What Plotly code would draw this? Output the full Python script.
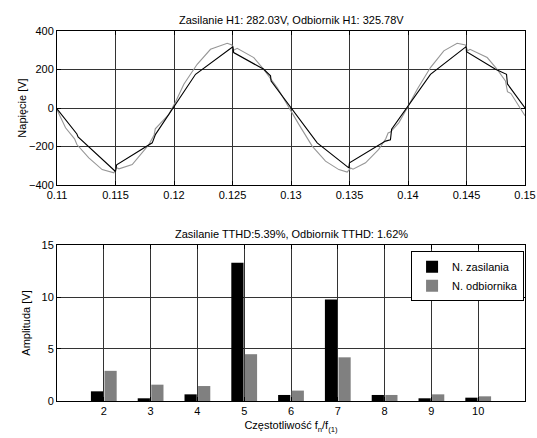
import plotly.graph_objects as go

# --- top chart: voltage waveforms ---
t_zas = [0.1100, 0.1117, 0.1118, 0.1150, 0.1151, 0.11814, 0.11842, 0.12184, 0.12503, 0.1251,
         0.12767, 0.12825, 0.1283, 0.13224, 0.13494, 0.1350, 0.13808, 0.1385, 0.1386,
         0.14192, 0.14497, 0.1450, 0.14748, 0.14842, 0.1485, 0.1500]
v_zas = [-5, -135, -150, -330, -295, -181, -137, 175, 318, 288,
         201, 167, 140, -181, -311, -285, -172, -165, -110,
         175, 319, 293, 201, 175, 125, 0]

t_odb = [0.1100, 0.11073, 0.1115, 0.1116, 0.1117, 0.11272, 0.11386, 0.11486, 0.1151, 0.1153,
         0.11643, 0.11785, 0.1183, 0.1184, 0.11956, 0.12007, 0.12084, 0.12198, 0.12312, 0.12455,
         0.12495, 0.1251, 0.1254, 0.12682, 0.12767, 0.12882, 0.12996, 0.13067, 0.13181, 0.13295,
         0.13409, 0.1348, 0.1351, 0.1353, 0.13637, 0.1375, 0.1381, 0.1383, 0.1385, 0.13921,
         0.13993, 0.14079, 0.14192, 0.14306, 0.1442, 0.14491, 0.1451, 0.1453, 0.14677, 0.14762,
         0.14833, 0.1485, 0.1488, 0.14919, 0.1500]
v_odb = [-9, -103, -160, -175, -190, -259, -320, -337, -310, -316,
         -294, -190, -140, -108, -33, 24, 123, 227, 305, 336,
         328, 300, 310, 262, 201, 106, -16, -85, -198, -276,
         -320, -333, -312, -318, -285, -215, -160, -130, -125, -77,
         0, 97, 210, 297, 336, 327, 297, 305, 262, 201,
         141, 85, 75, 36, -40]

x_ticks_top = [0.11, 0.115, 0.12, 0.125, 0.13, 0.135, 0.14, 0.145, 0.15]
x_ticklabels_top = ["0.11", "0.115", "0.12", "0.125", "0.13", "0.135", "0.14", "0.145", "0.15"]
y_ticks_top = [-400, -200, 0, 200, 400]

# --- bottom chart: harmonics ---
harmonics = [2, 3, 4, 5, 6, 7, 8, 9, 10]
amp_zas = [0.93, 0.26, 0.64, 13.3, 0.58, 9.75, 0.58, 0.26, 0.32]
amp_odb = [2.9, 1.57, 1.44, 4.5, 1.0, 4.2, 0.58, 0.64, 0.45]
y_ticks_bot = [0, 5, 10, 15]

title_top = "Zasilanie H1: 282.03V, Odbiornik H1: 325.78V"
title_bot = "Zasilanie TTHD:5.39%, Odbiornik TTHD: 1.62%"

FONT = "Liberation Sans, Arial, sans-serif"

fig = go.Figure()
fig.add_trace(go.Scatter(x=t_odb, y=v_odb, mode="lines", line=dict(color="#969696", width=1.1),
                         xaxis="x", yaxis="y", showlegend=False))
fig.add_trace(go.Scatter(x=t_zas, y=v_zas, mode="lines", line=dict(color="#000000", width=1.1),
                         xaxis="x", yaxis="y", showlegend=False))
fig.add_trace(go.Bar(x=harmonics, y=amp_zas, name="N. zasilania", marker=dict(color="#000000", line=dict(width=0)),
                     xaxis="x2", yaxis="y2"))
fig.add_trace(go.Bar(x=harmonics, y=amp_odb, name="N. odbiornika", marker=dict(color="#808080", line=dict(width=0)),
                     xaxis="x2", yaxis="y2"))

axis_common = dict(showline=True, linecolor="black", linewidth=1, mirror="ticks",
                   ticks="inside", ticklen=4, tickcolor="black", automargin=False,
                   showgrid=True, gridcolor="#333333", gridwidth=1, zeroline=False,
                   tickfont=dict(family=FONT, size=11, color="black"))

fig.update_layout(
    width=537, height=438,
    paper_bgcolor="white", plot_bgcolor="white",
    margin=dict(l=57, r=12, t=31, b=37),
    font=dict(family=FONT, size=11, color="black"),
    barmode="group", bargap=0.42, bargroupgap=0.1,
    xaxis=dict(domain=[0, 1], range=[0.11, 0.15], tickvals=x_ticks_top, ticktext=x_ticklabels_top,
               anchor="y", **axis_common),
    yaxis=dict(domain=[0.5838, 1], range=[-400, 400], tickvals=y_ticks_top, anchor="x",
               title=dict(text="Napięcie [V]", font=dict(size=11), standoff=0), **axis_common),
    xaxis2=dict(domain=[0, 1], range=[1, 11], tickvals=harmonics, anchor="y2",
                title=dict(text="Częstotliwość f<sub>n</sub>/f<sub>(1)</sub>", font=dict(size=11), standoff=5),
                **axis_common),
    yaxis2=dict(domain=[0, 0.4216], range=[0, 15], tickvals=y_ticks_bot, anchor="x2",
                title=dict(text="Amplituda [V]", font=dict(size=11), standoff=8), **axis_common),
    legend=dict(x=0.998, y=0.405, xanchor="right", yanchor="top", bgcolor="white",
                bordercolor="black", borderwidth=1, font=dict(size=11), tracegroupgap=0,
                itemwidth=30),
    annotations=[
        dict(text=title_top, xref="paper", yref="paper", x=0.5, y=1, yanchor="bottom", yshift=3,
             showarrow=False, font=dict(size=11)),
        dict(text=title_bot, xref="paper", yref="paper", x=0.5, y=0.4216, yanchor="bottom", yshift=3,
             showarrow=False, font=dict(size=11)),
    ],
)

fig.write_html("out.html")
